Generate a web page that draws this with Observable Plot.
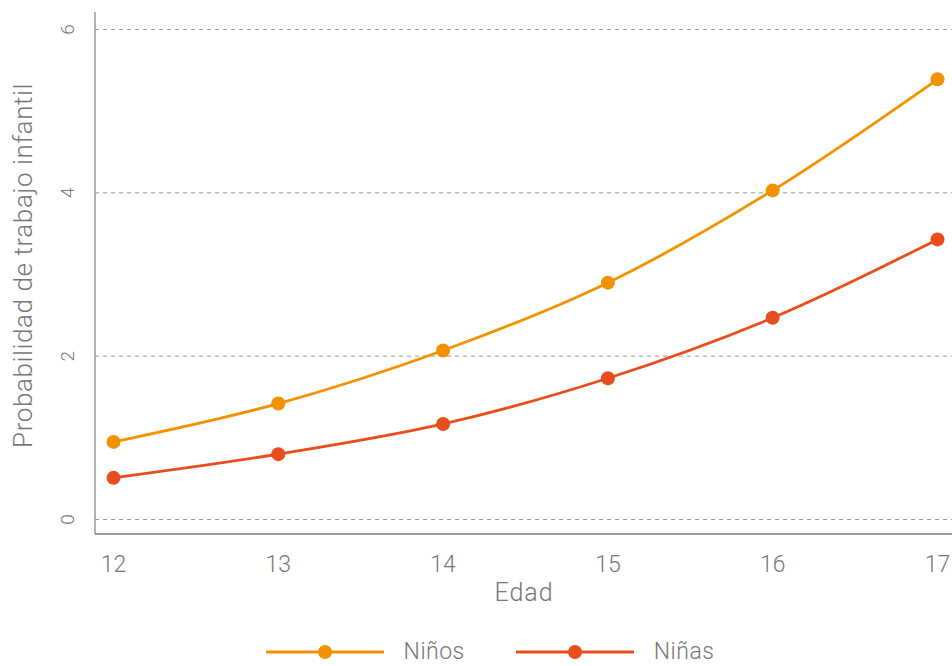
<!DOCTYPE html>
<html>
<head>
<meta charset="utf-8">
<script src="https://cdn.jsdelivr.net/npm/d3@7"></script>
<script src="https://cdn.jsdelivr.net/npm/@observablehq/plot@0.6"></script>
<style>
  body { margin: 0; background: #fff; font-family: Roboto, "DejaVu Sans", sans-serif; font-weight: 300; }
  #chart svg { display: block; }
  #chart svg .ylab text { letter-spacing: 0.6px; }
  #chart svg .xlab text { letter-spacing: 1px; }
  #legend { display: flex; justify-content: center; align-items: center; gap: 51px; margin-top: 33px; padding-left: 28px; height: 18px; }
  .item { display: flex; align-items: center; gap: 20px; font-size: 23px; color: #777; font-weight: 300; line-height: 18px; letter-spacing: 0.5px; }
</style>
</head>
<body>
<div id="chart"></div>
<div id="legend"></div>
<script>
const ages = [12, 13, 14, 15, 16, 17];
const ninos = [0.95, 1.42, 2.07, 2.90, 4.03, 5.39];
const ninas = [0.51, 0.80, 1.17, 1.73, 2.47, 3.43];
const seriesNames = ["Niños", "Niñas"];
const seriesColors = ["#F39200", "#E84E1C"];
const yTicks = [0, 2, 4, 6];

const data = [];
ages.forEach((a, i) => {
  data.push({edad: a, p: ninos[i], s: seriesNames[0]});
  data.push({edad: a, p: ninas[i], s: seriesNames[1]});
});

const W = 952, H = 610, mL = 95, mT = 12, mB = 76, mR = 0;
const gray = "#777";

const plot = Plot.plot({
  width: W, height: H,
  marginLeft: mL, marginTop: mT, marginBottom: mB, marginRight: mR,
  insetLeft: 18, insetRight: 15, insetTop: 17, insetBottom: 15,
  style: {fontFamily: "Roboto, 'DejaVu Sans', sans-serif", fontWeight: 300, background: "#fff"},
  x: {domain: [12, 17]},
  y: {domain: [0, 6]},
  color: {domain: seriesNames, range: seriesColors},
  marks: [
    Plot.ruleY(yTicks, {stroke: "#999", strokeDasharray: "4,4", strokeWidth: 1}),
    Plot.axisY({ticks: yTicks, tickSize: 0, tickPadding: 22, tickRotate: -90, fontSize: 19, fill: gray, label: null, textAnchor: "middle", tickFormat: d => String(d)}),
    Plot.axisX({ticks: ages, tickSize: 0, tickPadding: 21, fontSize: 23, fill: gray, label: null, tickFormat: d => String(d)}),
    Plot.text(["Probabilidad de trabajo infantil"], {className: "ylab", frameAnchor: "left", textAnchor: "middle", rotate: -90, dx: -72, dy: -8, fontSize: 26, fill: gray, fontWeight: 300}),
    Plot.text(["Edad"], {className: "xlab", frameAnchor: "bottom", dy: 66, fontSize: 25, fill: gray, fontWeight: 300}),
    Plot.line(data, {x: "edad", y: "p", z: "s", stroke: "s", strokeWidth: 2.8, curve: "catmull-rom"}),
    Plot.dot(data, {x: "edad", y: "p", fill: "s", r: 7})
  ]
});
document.getElementById("chart").appendChild(plot);

// axis lines (left and bottom)
const svg = d3.select(plot);
svg.append("line").attr("x1", mL).attr("x2", mL).attr("y1", mT).attr("y2", H - mB)
  .attr("stroke", "#999").attr("stroke-width", 1.5);
svg.append("line").attr("x1", mL).attr("x2", W - mR).attr("y1", H - mB).attr("y2", H - mB)
  .attr("stroke", "#777").attr("stroke-width", 1.5);

// legend
const leg = d3.select("#legend");
seriesNames.forEach((name, i) => {
  const it = leg.append("div").attr("class", "item");
  const s = it.append("svg").attr("width", 118).attr("height", 16);
  s.append("line").attr("x1", 0).attr("x2", 118).attr("y1", 8).attr("y2", 8)
    .attr("stroke", seriesColors[i]).attr("stroke-width", 3);
  s.append("circle").attr("cx", 59).attr("cy", 8).attr("r", 7).attr("fill", seriesColors[i]);
  it.append("span").text(name);
});
</script>
</body>
</html>
